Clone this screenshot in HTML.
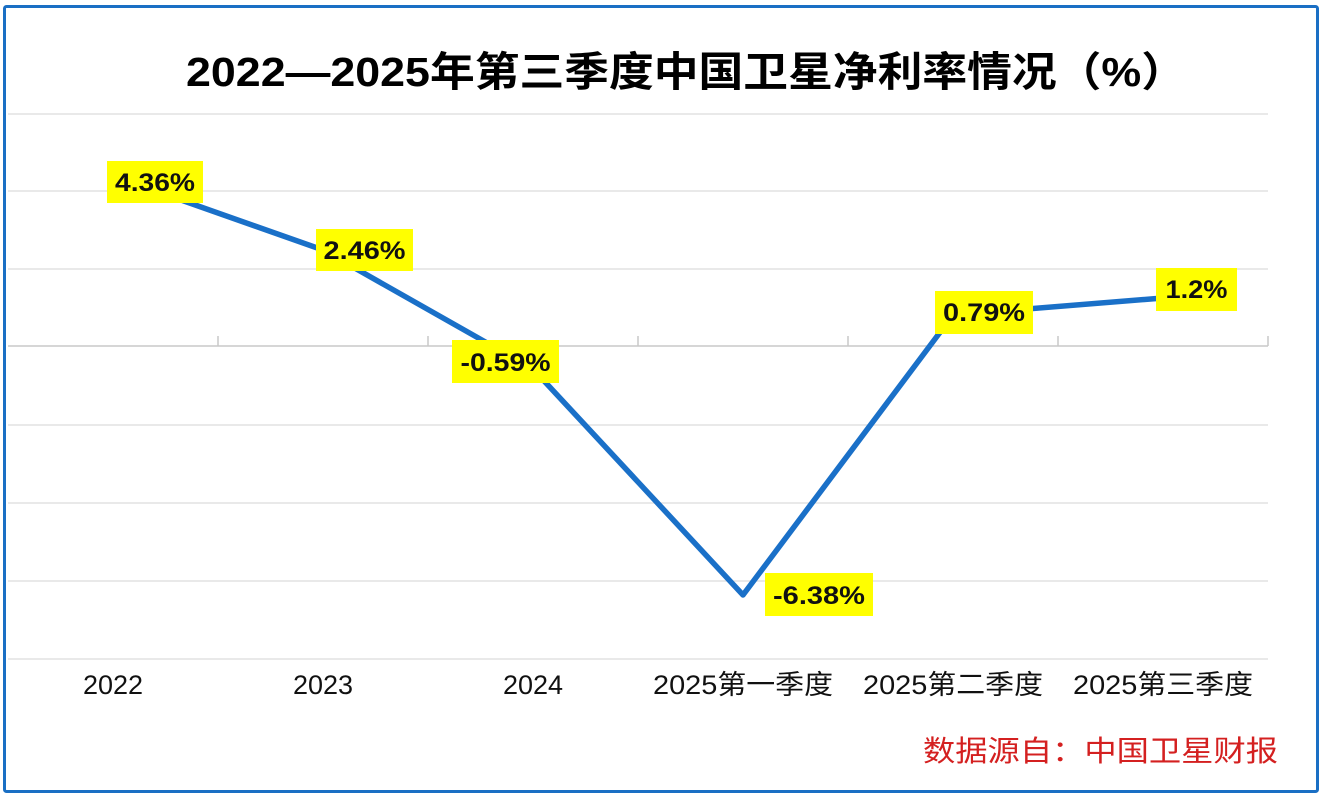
<!DOCTYPE html>
<html><head><meta charset="utf-8"><style>
html,body{margin:0;padding:0;background:#fff;}
svg{display:block;}
</style></head><body>
<svg width="1328" height="798" viewBox="0 0 1328 798" xmlns="http://www.w3.org/2000/svg" font-family="'Liberation Sans','Noto Sans CJK SC',sans-serif">
<rect x="0" y="0" width="1328" height="798" fill="#fff"/>
<rect x="4.5" y="6.5" width="1313" height="785" fill="#fff" stroke="#1a6fc4" stroke-width="3" rx="2"/>
<text x="686" y="86" font-size="41" font-weight="bold" text-anchor="middle" textLength="1000" lengthAdjust="spacingAndGlyphs" fill="#000">2022—2025年第三季度中国卫星净利率情况（%）</text>
<g stroke="#dcdcdc" stroke-width="1.3">
<line x1="8" y1="114" x2="1268" y2="114"/>
<line x1="8" y1="191" x2="1268" y2="191"/>
<line x1="8" y1="269" x2="1268" y2="269"/>
<line x1="8" y1="425" x2="1268" y2="425"/>
<line x1="8" y1="503" x2="1268" y2="503"/>
<line x1="8" y1="581" x2="1268" y2="581"/>
<line x1="8" y1="659" x2="1268" y2="659"/>
</g>
<g stroke="#c8c8c8" stroke-width="1.5">
<line x1="8" y1="346" x2="1268" y2="346"/>
<line x1="218" y1="336" x2="218" y2="346"/>
<line x1="428" y1="336" x2="428" y2="346"/>
<line x1="638" y1="336" x2="638" y2="346"/>
<line x1="848" y1="336" x2="848" y2="346"/>
<line x1="1058" y1="336" x2="1058" y2="346"/>
<line x1="1268" y1="336" x2="1268" y2="346"/>
</g>
<polyline points="113,176 323,250 533,369 743,595 953,315 1163,298" fill="none" stroke="#1a70c8" stroke-width="5.5" stroke-linejoin="round"/>
<g fill="#ffff00">
<rect x="107" y="161" width="96" height="42"/>
<rect x="316" y="229" width="97" height="42"/>
<rect x="452" y="340" width="107" height="43"/>
<rect x="765" y="573" width="108" height="43"/>
<rect x="935" y="291" width="98" height="43"/>
<rect x="1156" y="268" width="81" height="43"/>
</g>
<g font-size="25" font-weight="bold" fill="#111" text-anchor="middle">
<text x="155" y="191" textLength="80" lengthAdjust="spacingAndGlyphs">4.36%</text>
<text x="364.5" y="259" textLength="82" lengthAdjust="spacingAndGlyphs">2.46%</text>
<text x="505.5" y="371" textLength="90" lengthAdjust="spacingAndGlyphs">-0.59%</text>
<text x="819" y="604" textLength="92" lengthAdjust="spacingAndGlyphs">-6.38%</text>
<text x="984" y="321" textLength="82" lengthAdjust="spacingAndGlyphs">0.79%</text>
<text x="1196.5" y="298" textLength="62" lengthAdjust="spacingAndGlyphs">1.2%</text>
</g>
<g font-size="27" fill="#111" text-anchor="middle">
<text x="113" y="694">2022</text>
<text x="323" y="694">2023</text>
<text x="533" y="694">2024</text>
<text x="743" y="694" textLength="180" lengthAdjust="spacingAndGlyphs">2025第一季度</text>
<text x="953" y="694" textLength="180" lengthAdjust="spacingAndGlyphs">2025第二季度</text>
<text x="1163" y="694" textLength="180" lengthAdjust="spacingAndGlyphs">2025第三季度</text>
</g>
<text x="1278" y="761" font-size="29" fill="#d42020" text-anchor="end" textLength="355" lengthAdjust="spacingAndGlyphs">数据源自：中国卫星财报</text>
</svg>
</body></html>
